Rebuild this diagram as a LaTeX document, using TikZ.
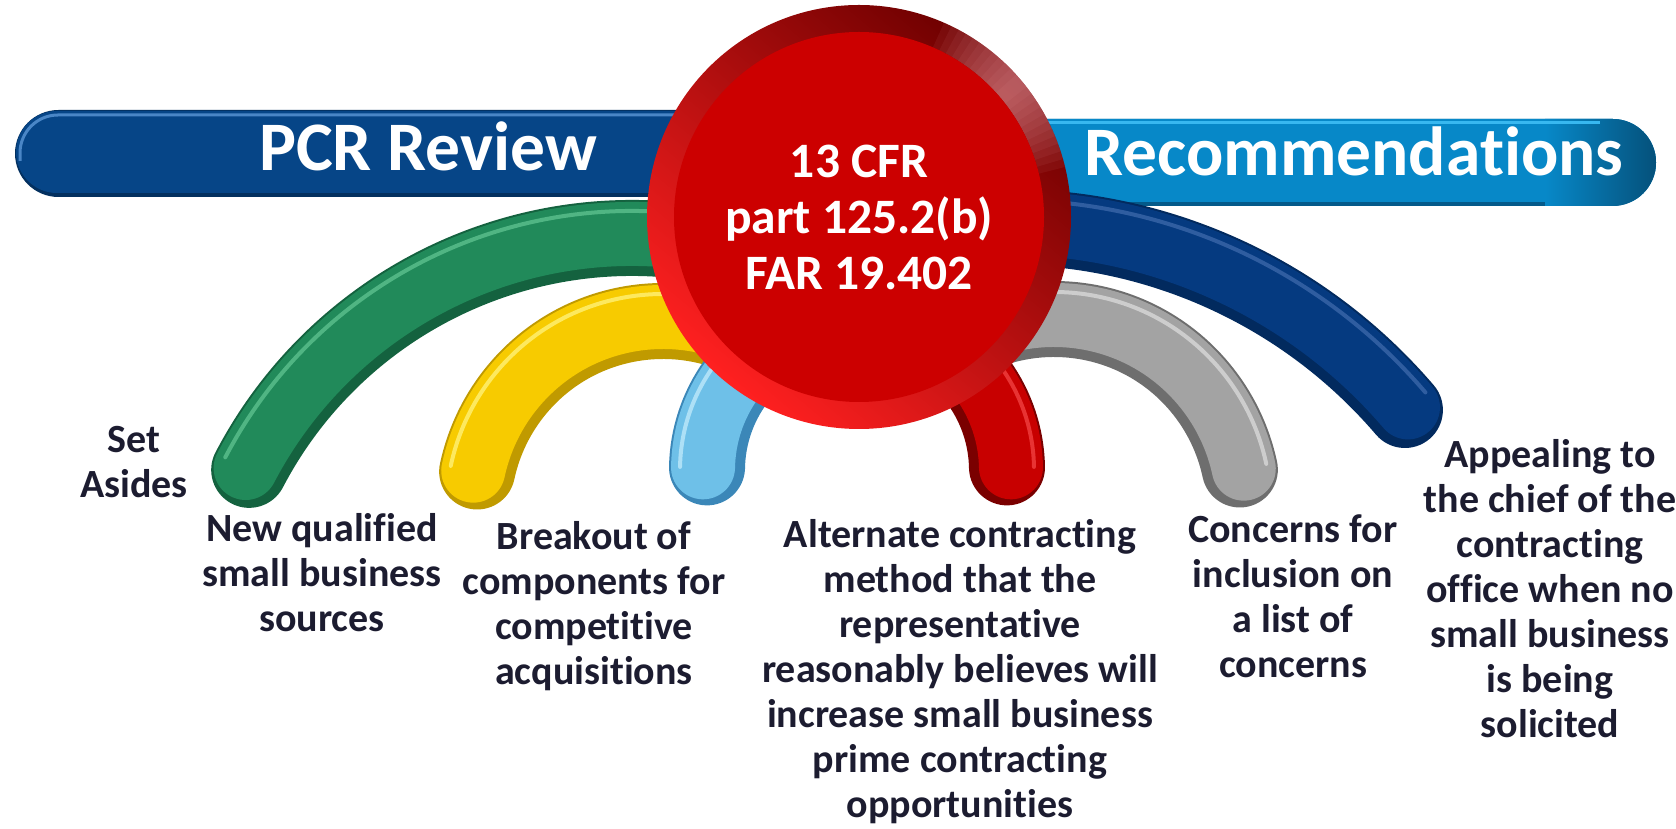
\documentclass[tikz,border=0pt]{standalone}
\usepackage{fontspec}
\setmainfont{Carlito}[Ligatures=NoCommon]
\definecolor{txt}{HTML}{1C1C30}
\definecolor{ldark}{HTML}{03305F}
\definecolor{lmain}{HTML}{064587}
\definecolor{llight}{HTML}{4A86C6}
\definecolor{rbdark}{HTML}{045A8A}
\definecolor{rbmain}{HTML}{0788C8}
\definecolor{rbend}{HTML}{05507A}
\definecolor{rblight}{HTML}{38B8F0}
\definecolor{gdark}{HTML}{14623F}
\definecolor{gmain}{HTML}{218A5A}
\definecolor{glight}{HTML}{5CC08E}
\definecolor{bdark}{HTML}{022A5E}
\definecolor{bmain}{HTML}{053A80}
\definecolor{blight}{HTML}{3A66A8}
\definecolor{ydark}{HTML}{C09A00}
\definecolor{ymain}{HTML}{F7CB00}
\definecolor{ylight}{HTML}{FFF176}
\definecolor{kdark}{HTML}{6E6E6E}
\definecolor{kmain}{HTML}{A3A3A3}
\definecolor{klight}{HTML}{D8D8D8}
\definecolor{cdark}{HTML}{3B87B8}
\definecolor{cmain}{HTML}{6EC0E8}
\definecolor{clight}{HTML}{BDE8FA}
\definecolor{rdark}{HTML}{7A0000}
\definecolor{rmain}{HTML}{C80000}
\definecolor{rlight}{HTML}{F04040}
\definecolor{rbright}{HTML}{FF2020}
\definecolor{rmid}{HTML}{A80000}
\definecolor{rdeep}{HTML}{6E0000}
\definecolor{rface}{HTML}{CC0000}
\definecolor{pinkhl}{HTML}{F0A0A8}
\begin{document}
\begin{tikzpicture}[x=1pt,y=1pt]

  \tikzset{tube/.style = {line width=76pt, line cap=round}}
  \tikzset{label/.style = {align=center, anchor=base, inner sep=0pt, text=txt,
      font=\bfseries\fontsize{40}{45}\selectfont}}
  \tikzset{bartext/.style = {anchor=base, inner sep=0pt, text=white,
      font=\bfseries\fontsize{69.5}{72}\selectfont}}
  \tikzset{hub/.style = {circle, minimum size=424pt, inner sep=0pt,
      left color=rbright, middle color=rmid, right color=rdeep, shading angle=140}}
  \tikzset{face/.style = {circle, minimum size=370pt, inner sep=0pt, fill=rface,
      text=white, align=center, font=\bfseries\fontsize{49.5}{56}\selectfont}}

  \useasboundingbox (0,0) rectangle (1676,829);

  % left bar
  \fill[ldark, rounded corners=43.5pt] (15,632) rectangle (900,719);
  \fill[lmain, rounded corners=41pt] (16,636) rectangle (900,718);
  \draw[llight, line width=3pt, rounded corners=38pt] (20,668) |- (880,714);
  \node[bartext] (pcr) at (428,658) {PCR Review};

  % right bar
  \begin{scope}
    \clip[rounded corners=43.5pt] (800,623) rectangle (1656,710);
    \fill[rbdark] (800,620) rectangle (1660,712);
    \fill[rbmain] (800,627) rectangle (1660,712);
    \shade[left color=rbmain, right color=rbend] (1545,620) rectangle (1657,712);
    \draw[rblight, line width=3pt] (800,706) -- (1600,706);
  \end{scope}
  \node[bartext] (recs) at (1354,653) {Recommendations};

  % tubes
  \foreach \cx/\cy/\r/\a/\b/\dk/\mn/\lt in {
      632/159/432/75/152.4/gdark/gmain/glight,
      1008/80/522/95/40.5/bdark/bmain/blight,
      663/318/190/50/168/ydark/ymain/ylight,
      1054/320/190/130/12/kdark/kmain/klight,
      857/359/150/110/179/cdark/cmain/clight,
      857/359/150/70/1/rdark/rmain/rlight}
  {
    \draw[tube, \dk] (\cx,\cy) ++(\a:\r) arc[start angle=\a, end angle=\b, radius=\r];
    \draw[tube, line width=64pt, \mn] (\cx,\cy) ++(\a:{\r+4})
      arc[start angle=\a, end angle=\b, radius=\r+4];
    \draw[line width=4pt, line cap=round, \lt, opacity=0.8] (\cx,\cy) ++(\a:{\r+27})
      arc[start angle=\a, end angle=\b, radius=\r+27];
  }

  % centre disc
  \node[hub] (hub) at (859,612) {};
  \foreach \k in {1,...,12}
    \draw[pinkhl, line width=27pt, opacity=0.07] (hub.center) ++({40-2.2*\k}:198.5)
      arc[start angle={40-2.2*\k}, end angle={40+2.2*\k}, radius=198.5];
  \node[face] (law) at (hub.center) {13 CFR\\part 125.2(b)\\FAR 19.402};

  % labels
  \node[label] (setaside) at (134,331) {Set\\Asides};
  \node[label] (newsrc) at (322,197) {New qualified\\small business\\sources};
  \node[label] (breakout) at (594,144) {Breakout of\\components for\\competitive\\acquisitions};
  \node[label] (altmethod) at (960,11) {Alternate contracting\\method that the\\representative\\reasonably believes will\\increase small business\\prime contracting\\opportunities};
  \node[label] (concerns) at (1293,151) {Concerns for\\inclusion on\\a list of\\concerns};
  \node[label] (appeal) at (1550,91) {Appealing to\\the chief of the\\contracting\\office when no\\small business\\is being\\solicited};

\end{tikzpicture}
\end{document}
